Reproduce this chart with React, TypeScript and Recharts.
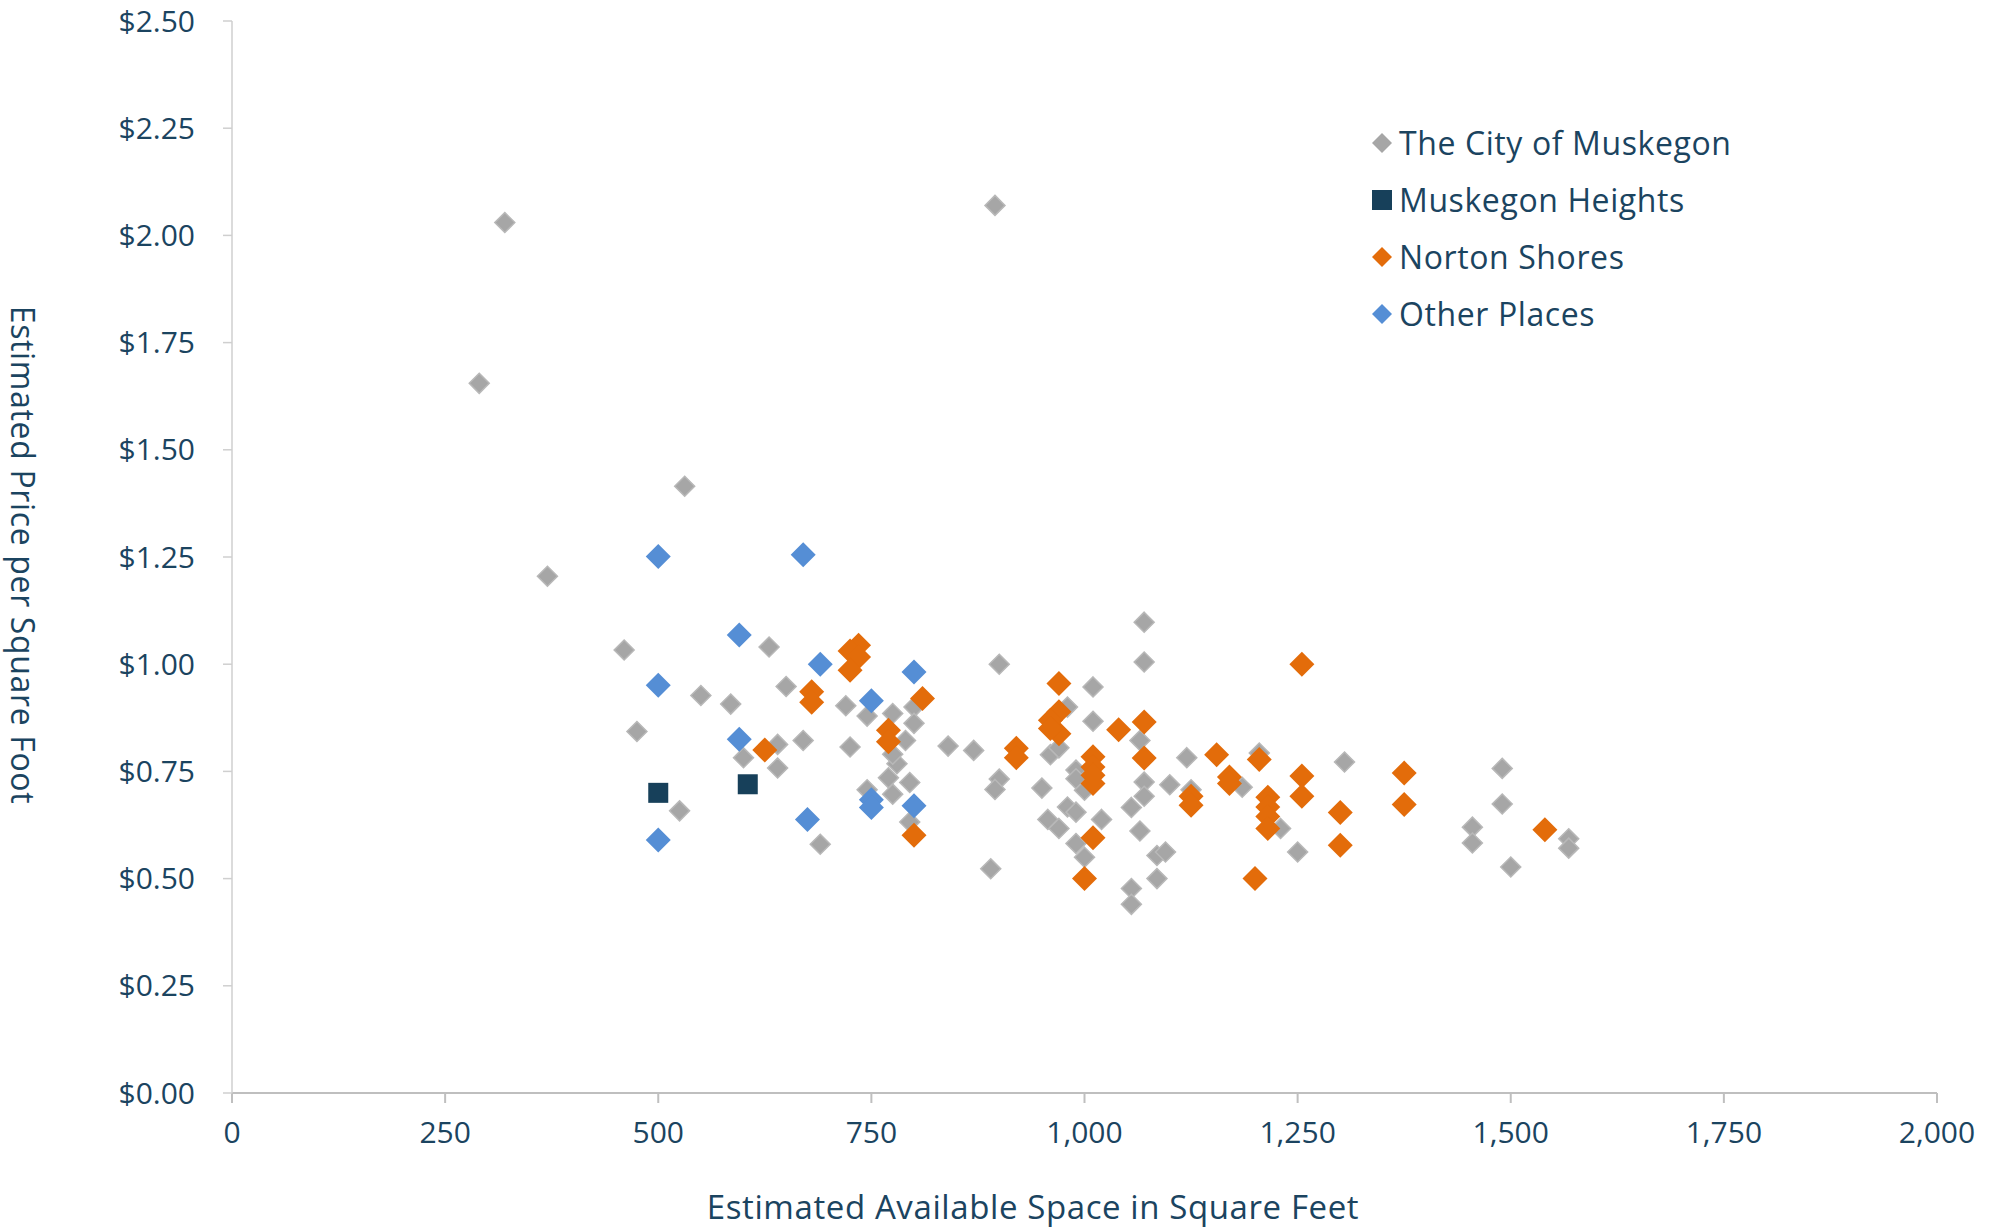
import React from 'react';
import { ScatterChart, Scatter, XAxis, YAxis, Legend, Label } from 'recharts';

const FONT = '"Open Sans", sans-serif';
const TEXT = '#1B4460';

const seriesNames = ['The City of Muskegon', 'Muskegon Heights', 'Norton Shores', 'Other Places'];
const seriesColors = ['#A6A6A6', '#17405A', '#E36C0A', '#558ED5'];

const cityX = [320, 290, 895, 531, 370, 460, 630, 550, 585, 475, 650, 720, 745, 775, 800, 800, 790, 900, 840, 870,
  670, 725, 640, 600, 640, 745, 770, 795, 775, 780, 775, 795, 690, 525, 890, 900, 895, 950, 960, 957,
  1070, 1070, 1010, 980, 1010, 1065, 970, 1120, 1205, 1305, 1490, 1490, 1070, 1070, 1100, 1125, 1185, 990, 990, 1000,
  980, 990, 970, 1020, 1055, 1065, 990, 1000, 1085, 1095, 1085, 1055, 1055, 1230, 1250, 1455, 1455, 1500, 1568, 1568];
const cityY = [2.03, 1.655, 2.07, 1.415, 1.205, 1.033, 1.04, 0.927, 0.907, 0.843, 0.948, 0.903, 0.879, 0.885, 0.9, 0.862, 0.822, 1.0, 0.809, 0.799,
  0.822, 0.807, 0.813, 0.782, 0.758, 0.707, 0.735, 0.724, 0.697, 0.768, 0.79, 0.632, 0.58, 0.658, 0.523, 0.732, 0.708, 0.711, 0.789, 0.638,
  1.098, 1.005, 0.947, 0.9, 0.867, 0.822, 0.805, 0.782, 0.793, 0.772, 0.757, 0.674, 0.725, 0.692, 0.719, 0.707, 0.713, 0.753, 0.733, 0.706,
  0.667, 0.655, 0.617, 0.638, 0.666, 0.611, 0.582, 0.55, 0.554, 0.562, 0.5, 0.477, 0.44, 0.617, 0.562, 0.62, 0.583, 0.527, 0.593, 0.571];

const heightsX = [500, 605];
const heightsY = [0.7, 0.72];

const nortonX = [735, 725, 735, 725, 680, 680, 810, 625, 770, 770, 800, 920, 920, 1255, 970, 970, 970, 960, 960, 1040,
  1070, 1070, 1010, 1010, 1010, 1010, 1010, 1000, 1125, 1125, 1155, 1170, 1170, 1205, 1215, 1215, 1215, 1215, 1200, 1255,
  1255, 1300, 1300, 1375, 1375, 1540];
const nortonY = [1.044, 1.031, 1.017, 0.986, 0.936, 0.911, 0.92, 0.8, 0.846, 0.819, 0.601, 0.804, 0.782, 1.0, 0.955, 0.889, 0.838, 0.869, 0.85, 0.847,
  0.865, 0.781, 0.784, 0.76, 0.741, 0.722, 0.595, 0.5, 0.692, 0.671, 0.789, 0.737, 0.722, 0.778, 0.69, 0.667, 0.645, 0.617, 0.5, 0.739,
  0.692, 0.654, 0.578, 0.746, 0.673, 0.614];

const otherX = [500, 670, 595, 690, 500, 800, 750, 595, 750, 750, 800, 675, 500];
const otherY = [1.251, 1.255, 1.068, 1.0, 0.951, 0.982, 0.915, 0.825, 0.684, 0.666, 0.67, 0.638, 0.59];

const xTicks = [0, 250, 500, 750, 1000, 1250, 1500, 1750, 2000];
const yTicks = [0, 0.25, 0.5, 0.75, 1.0, 1.25, 1.5, 1.75, 2.0, 2.25, 2.5];

const xTitle = 'Estimated Available Space in Square Feet';
const yTitle = 'Estimated Price per Square Foot';

const toPoints = (xs: number[], ys: number[]) => xs.map((x, i) => ({ x, y: ys[i] }));

const diamond = (r: number, fill: string, stroke?: string) => (props: any) => {
  const { cx, cy } = props;
  if (cx == null || cy == null) return <g />;
  return (
    <polygon
      points={`${cx},${cy - r} ${cx + r},${cy} ${cx},${cy + r} ${cx - r},${cy}`}
      fill={fill}
      stroke={stroke || 'none'}
      strokeWidth={stroke ? 1.5 : 0}
    />
  );
};

const square = (s: number, fill: string) => (props: any) => {
  const { cx, cy } = props;
  if (cx == null || cy == null) return <g />;
  return <rect x={cx - s / 2} y={cy - s / 2} width={s} height={s} fill={fill} />;
};

const legendIcon = (i: number) => {
  if (i === 1) return <rect x={1} y={1} width={20} height={20} fill={seriesColors[i]} />;
  return <polygon points="11,1 21,11 11,21 1,11" fill={seriesColors[i]} />;
};

const renderLegend = () => (
  <div style={{ fontFamily: FONT, fontSize: 32, letterSpacing: 0.6, color: TEXT }}>
    {seriesNames.map((name, i) => (
      <div key={name} style={{ display: 'flex', alignItems: 'center', height: 57 }}>
        <svg width={22} height={22} style={{ marginRight: 6 }}>{legendIcon(i)}</svg>
        <span style={{ whiteSpace: 'nowrap' }}>{name}</span>
      </div>
    ))}
  </div>
);

const fmtMoney = (v: number) => `$${v.toFixed(2)}`;
const fmtNum = (v: number) => v.toLocaleString('en-US');

export default function App() {
  return (
    <div style={{ position: 'absolute', left: 0, top: 0, width: 2001, height: 1228, background: '#fff' }}>
      <ScatterChart width={2001} height={1228} margin={{ top: 21, right: 64, bottom: 0, left: 0 }}>
        <XAxis
          type="number"
          dataKey="x"
          domain={[0, 2000]}
          ticks={xTicks}
          tickFormatter={fmtNum}
          height={135}
          tickSize={10}
          tickMargin={19}
          stroke="#BFBFBF"
          strokeWidth={2}
          tick={{ fill: TEXT, fontSize: 30, fontFamily: FONT }}
          interval={0}
        >
          <Label
            content={() => (
              <text x={1033} y={1206} textAnchor="middle" dominantBaseline="central" fill={TEXT} fontSize={33} letterSpacing={0.6} fontFamily={FONT}>
                {xTitle}
              </text>
            )}
          />
        </XAxis>
        <YAxis
          type="number"
          dataKey="y"
          domain={[0, 2.5]}
          ticks={yTicks}
          tickFormatter={fmtMoney}
          width={232}
          tickSize={9}
          tickMargin={28}
          stroke="#CFCFCF"
          strokeWidth={1.5}
          tick={{ fill: TEXT, fontSize: 30, fontFamily: FONT }}
          interval={0}
        >
          <Label
            content={() => (
              <text x={23} y={555} textAnchor="middle" dominantBaseline="central" fill={TEXT} fontSize={32} letterSpacing={0.65} fontFamily={FONT} transform="rotate(90 23 555)">
                {yTitle}
              </text>
            )}
          />
        </YAxis>
        <Legend
          layout="vertical"
          align="center"
          verticalAlign="middle"
          content={renderLegend}
          wrapperStyle={{ left: 1371, top: 114, width: 'auto', height: 'auto' }}
        />
        <Scatter name={seriesNames[0]} data={toPoints(cityX, cityY)} shape={diamond(10, '#A6A6A6', '#B8B8B8')} isAnimationActive={false} />
        <Scatter name={seriesNames[1]} data={toPoints(heightsX, heightsY)} shape={square(20, seriesColors[1])} isAnimationActive={false} />
        <Scatter name={seriesNames[2]} data={toPoints(nortonX, nortonY)} shape={diamond(12.5, seriesColors[2])} isAnimationActive={false} />
        <Scatter name={seriesNames[3]} data={toPoints(otherX, otherY)} shape={diamond(12.5, seriesColors[3])} isAnimationActive={false} />
      </ScatterChart>
    </div>
  );
}
